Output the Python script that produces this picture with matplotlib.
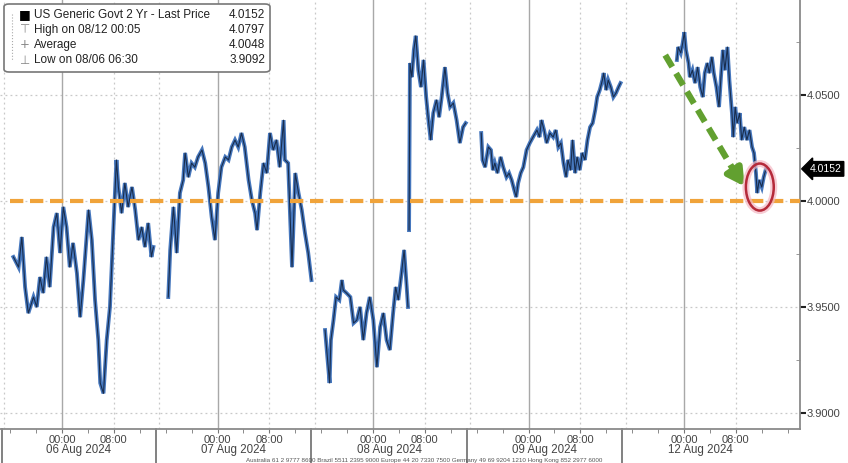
import matplotlib
matplotlib.use('Agg')
import matplotlib.pyplot as plt
from matplotlib.patches import Ellipse, FancyBboxPatch
from matplotlib.ticker import FixedLocator, FormatStrFormatter

plt.rcParams['font.family'] = ['Liberation Sans', 'DejaVu Sans']

# US 2y yield, hours relative to local midnight of each session
aug06_t = [-7.5, -6.7, -6.2, -5.7, -5.2, -4.4, -3.9, -3.4, -2.9, -2.4, -1.9, -1.3, -0.8, -0.3, 0.2,
           0.7, 1.2, 1.7, 2.3, 2.8, 3.3, 4.1, 4.6, 5.1, 5.6, 5.9, 6.4, 6.9, 7.4, 7.9, 8.4, 8.7, 9.2,
           9.7, 10.2, 10.8, 11.3, 11.8, 12.3, 12.8, 13.3, 13.8, 14.1]
aug06_y = [3.9736, 3.9688, 3.9830, 3.9594, 3.9471, 3.9547, 3.9500, 3.9641, 3.9566, 3.9736, 3.9594,
           3.9877, 3.9943, 3.9755, 3.9972, 3.9877, 3.9688, 3.9802, 3.9660, 3.9452, 3.9627, 3.9958,
           3.9816, 3.9533, 3.9344, 3.9141, 3.9092, 3.9344, 3.9500, 3.9849, 4.0194, 4.0066, 3.9943,
           4.0085, 3.9972, 4.0066, 3.9958, 3.9816, 3.9877, 3.9783, 3.9896, 3.9736, 3.9783]

aug07_t = [-7.6, -7.3, -6.8, -6.3, -5.8, -5.3, -5.0, -4.5, -4.0, -3.5, -3.0, -2.4, -1.9, -1.4, -0.9,
           -0.4, 0.1, 0.6, 1.2, 1.7, 2.2, 2.7, 3.2, 3.7, 4.2, 4.8, 5.3, 5.8, 6.1, 6.6, 7.1, 7.6, 8.1,
           8.6, 9.1, 9.6, 10.2, 10.4, 10.9, 11.5, 12.0, 12.5, 13.0, 13.5, 14.0, 14.5]
aug07_y = [3.9547, 3.9769, 3.9972, 3.9755, 4.0038, 4.0099, 4.0227, 4.0113, 4.0179, 4.0160, 4.0208,
           4.0241, 4.0179, 4.0066, 3.9924, 3.9816, 4.0038, 4.0160, 4.0208, 4.0194, 4.0255, 4.0288,
           4.0255, 4.0321, 4.0255, 4.0099, 4.0005, 3.9943, 3.9863, 4.0038, 4.0179, 4.0132, 4.0321,
           4.0241, 4.0288, 4.0160, 4.0382, 4.0194, 4.0179, 3.9688, 4.0132, 4.0038, 3.9958, 3.9849,
           3.9755, 3.9627]

# 08 Aug has a gap before the jump
aug08a_t = [-7.4, -7.1, -6.7, -6.5, -6.1, -5.7, -5.2, -4.8, -4.6, -4.1, -3.5, -3.0, -2.5, -2.0, -1.5,
            -1.0, -0.5, 0.05, 0.6, 1.1, 1.6, 2.1, 2.6, 3.1, 3.5, 3.9, 4.4, 4.8, 5.2, 5.4]
aug08a_y = [3.9391, 3.9283, 3.9141, 3.9344, 3.9438, 3.9547, 3.9533, 3.9627, 3.9580, 3.9566, 3.9547,
            3.9424, 3.9438, 3.9500, 3.9344, 3.9471, 3.9547, 3.9438, 3.9216, 3.9405, 3.9471, 3.9344,
            3.9297, 3.9471, 3.9594, 3.9533, 3.9660, 3.9769, 3.9594, 3.9500]
aug08b_t = [5.56, 5.7, 6.0, 6.3, 6.6, 7.0, 7.4, 7.8, 8.2, 8.6, 8.9, 9.3, 9.8, 10.2, 10.6, 11.1, 11.5,
            11.9, 12.4, 12.9, 13.4, 13.9, 14.3]
aug08b_y = [3.9863, 4.0651, 4.0585, 4.0713, 4.0780, 4.0618, 4.0538, 4.0666, 4.0491, 4.0368, 4.0288,
            4.0415, 4.0477, 4.0396, 4.0491, 4.0632, 4.0510, 4.0444, 4.0463, 4.0382, 4.0274, 4.0349,
            4.0368]

aug09_t = [-7.3, -7.1, -6.7, -6.2, -5.8, -5.5, -5.2, -4.8, -4.3, -3.9, -3.4, -3.0, -2.6, -2.2, -1.9,
           -1.6, -1.2, -0.8, -0.3, 0.2, 0.7, 1.3, 1.7, 2.0, 2.4, 2.8, 3.3, 3.8, 4.2, 4.6, 5.0, 5.4,
           5.8, 6.1, 6.5, 6.8, 7.2, 7.5, 7.9, 8.3, 8.7, 9.1, 9.5, 9.9, 10.3, 10.6, 11.0, 11.4, 11.6,
           12.0, 12.3, 12.7, 13.1, 13.5, 13.9, 14.2]
aug09_y = [4.0321, 4.0194, 4.0160, 4.0255, 4.0241, 4.0146, 4.0179, 4.0132, 4.0208, 4.0160, 4.0113,
           4.0132, 4.0099, 4.0052, 4.0019, 4.0085, 4.0132, 4.0160, 4.0241, 4.0274, 4.0302, 4.0335,
           4.0302, 4.0382, 4.0335, 4.0274, 4.0321, 4.0302, 4.0335, 4.0255, 4.0274, 4.0179, 4.0113,
           4.0194, 4.0146, 4.0288, 4.0132, 4.0208, 4.0146, 4.0227, 4.0194, 4.0288, 4.0349, 4.0368,
           4.0430, 4.0491, 4.0524, 4.0571, 4.0604, 4.0524, 4.0571, 4.0538, 4.0491, 4.0510, 4.0538,
           4.0557]

aug12_t = [-1.1, -0.9, -0.5, -0.2, 0.05, 0.3, 0.7, 0.9, 1.3, 1.7, 2.1, 2.5, 2.9, 3.2, 3.6, 3.9, 4.3,
           4.6, 5.0, 5.4, 5.7, 6.0, 6.3, 6.7, 7.0, 7.4, 7.6, 7.9, 8.2, 8.6, 8.9, 9.3, 9.7, 10.1, 10.5,
           10.8, 11.1, 11.3, 11.6, 12.0, 12.3, 12.65]
aug12_y = [4.0666, 4.0727, 4.0699, 4.0746, 4.0797, 4.0713, 4.0651, 4.0585, 4.0618, 4.0557, 4.0632,
           4.0538, 4.0491, 4.0604, 4.0651, 4.0604, 4.0680, 4.0604, 4.0538, 4.0444, 4.0585, 4.0713,
           4.0618, 4.0727, 4.0571, 4.0415, 4.0302, 4.0444, 4.0368, 4.0415, 4.0288, 4.0349, 4.0288,
           4.0335, 4.0255, 4.0227, 4.0132, 4.0038, 4.0099, 4.0066, 4.0113, 4.0152]

day_labels = ['06 Aug 2024', '07 Aug 2024', '08 Aug 2024', '09 Aug 2024', '12 Aug 2024']
segments = [(0, aug06_t, aug06_y), (1, aug07_t, aug07_y), (2, aug08a_t, aug08a_y),
            (2, aug08b_t, aug08b_y), (3, aug09_t, aug09_y), (4, aug12_t, aug12_y)]

legend_labels = ['US Generic Govt 2 Yr - Last Price', 'High on 08/12 00:05', 'Average', 'Low on 08/06 06:30']
legend_values = ['4.0152', '4.0797', '4.0048', '3.9092']
last_price = 4.0152
level_line = 4.0
y_ticks = [3.90, 3.95, 4.00, 4.05]

fig = plt.figure(figsize=(8.48, 4.63), dpi=100)
ax = fig.add_axes([0.0, 34 / 463, 800 / 848, 429 / 463])
ax.set_xlim(-9.57, 113.9)
ax.set_ylim(3.8924, 4.0949)

# grid
for y in y_ticks:
    ax.axhline(y, color='#c8c8c8', lw=0.9, ls=(0, (1.5, 2.5)), zorder=0)
for k in range(5):
    ax.axvline(24 * k, color='#a8a8a8', lw=1.0, zorder=0)
    ax.axvline(24 * k + 8, color='#c8c8c8', lw=0.9, ls=(0, (1.5, 2.5)), zorder=0)
for k in range(-1, 4):
    ax.axvline(24 * k + 15, color='#c8c8c8', lw=0.9, ls=(0, (1.5, 2.5)), zorder=0)

# price line
for day, t, y in segments:
    x = [24 * day + h for h in t]
    ax.plot(x, y, color='#4677bd', lw=2.8, solid_joinstyle='miter', zorder=3)
    ax.plot(x, y, color='#0d1a30', lw=0.8, alpha=0.8, zorder=4)

# orange level line
ax.axhline(level_line, xmin=0.012, color='#f0a33a', lw=3, ls=(0, (3.2, 1.6)), zorder=5)

# green dashed arrow
arr_start = (93.1, 4.0689)
arr_head = (103.6, 4.0148)
arr_end = (105.6, 4.0058)
ax.plot([arr_start[0], arr_head[0]], [arr_start[1], arr_head[1]], color='#62a030', lw=4.5,
        ls=(0, (2.2, 1.2)), solid_capstyle='butt', zorder=6)
ax.annotate('', xy=arr_end, xytext=arr_head,
            arrowprops=dict(arrowstyle='-|>,head_length=1.0,head_width=0.55', color='#62a030', lw=4.5),
            zorder=6)

# red ellipse
ax.add_patch(Ellipse((107.7, 4.0066), 4.3, 0.0222, fill=False, ec='#f4b8c4', lw=5, alpha=0.7, zorder=6))
ax.add_patch(Ellipse((107.7, 4.0066), 4.3, 0.0222, fill=False, ec='#b52a3a', lw=1.8, zorder=7))

# axes styling
for s in ['top', 'left']:
    ax.spines[s].set_visible(False)
for s in ['right', 'bottom']:
    ax.spines[s].set_color('#8a8a8a')
    ax.spines[s].set_linewidth(1.3)

ax.yaxis.tick_right()
ax.yaxis.set_major_locator(FixedLocator(y_ticks))
ax.yaxis.set_minor_locator(FixedLocator([3.925, 3.975, 4.025, 4.075]))
ax.yaxis.set_major_formatter(FormatStrFormatter('%.4f'))
ax.tick_params(axis='y', which='major', direction='out', length=4, width=1.5, color='#222222',
               labelsize=8, labelcolor='#444444', pad=1)
ax.tick_params(axis='y', which='minor', direction='in', length=3, color='#888888')

xt = []
xl = []
for k in range(5):
    xt += [24 * k, 24 * k + 8]
    xl += ['00:00', '08:00']
ax.set_xticks(xt)
ax.set_xticklabels(xl)
ax.xaxis.set_minor_locator(FixedLocator(list(range(-8, 114, 4))))
ax.tick_params(axis='x', which='both', direction='out', length=3, color='#777777',
               labelsize=8, labelcolor='#444444', pad=1.5)

trans = ax.get_xaxis_transform()
for k, lab in enumerate(day_labels):
    ax.text(24 * k + 2.5, -0.05, lab, transform=trans, ha='center', va='center',
            fontsize=8.3, color='#444444')
for xs in [-9.3] + [24 * k + 14.5 for k in range(4)]:
    ax.plot([xs, xs], [0, -0.1], transform=trans, clip_on=False, color='#777777', lw=1.3)

# last price tag
ax.text(1.012, last_price, '4.0152', transform=ax.get_yaxis_transform(), ha='left', va='center',
        fontsize=7.5, color='white',
        bbox=dict(boxstyle='larrow,pad=0.22', fc='black', ec='black'))

# legend box
fig.patches.append(FancyBboxPatch((4 / 848, 1 - 72 / 463), 266 / 848, 68 / 463,
                                  boxstyle='round,pad=0,rounding_size=0.006',
                                  transform=fig.transFigure, fc='white', ec='#777777', lw=1.2,
                                  zorder=10))
row_y = [15, 30, 45, 60]
symbols = ['\u25a0', '\u22a4', '+', '\u22a5']
sym_colors = ['black', '#888888', '#888888', '#888888']
fig.lines.append(plt.Line2D([12 / 848, 12 / 848], [1 - 14 / 463, 1 - 60 / 463], transform=fig.transFigure,
                            color='#aaaaaa', lw=0.8, ls=':', zorder=11))
for i in range(4):
    yy = 1 - row_y[i] / 463
    fig.text(25 / 848, yy, symbols[i], ha='center', va='center', fontsize=8.5 if i else 9,
             color=sym_colors[i], family=['DejaVu Sans'], zorder=11)
    fig.text(34 / 848, yy, legend_labels[i], ha='left', va='center', fontsize=8.5,
             color='#222222', zorder=11)
    fig.text(265 / 848, yy, legend_values[i], ha='right', va='center', fontsize=8.5,
             color='#222222', zorder=11)

# footer line at the very bottom, as in the screenshot
fig.text(0.5, 0.0, 'Australia 61 2 9777 8600 Brazil 5511 2395 9000 Europe 44 20 7330 7500 '
         'Germany 49 69 9204 1210 Hong Kong 852 2977 6000', ha='center', va='bottom',
         fontsize=4.5, color='#555555')

fig.savefig('out.png', dpi=100)
